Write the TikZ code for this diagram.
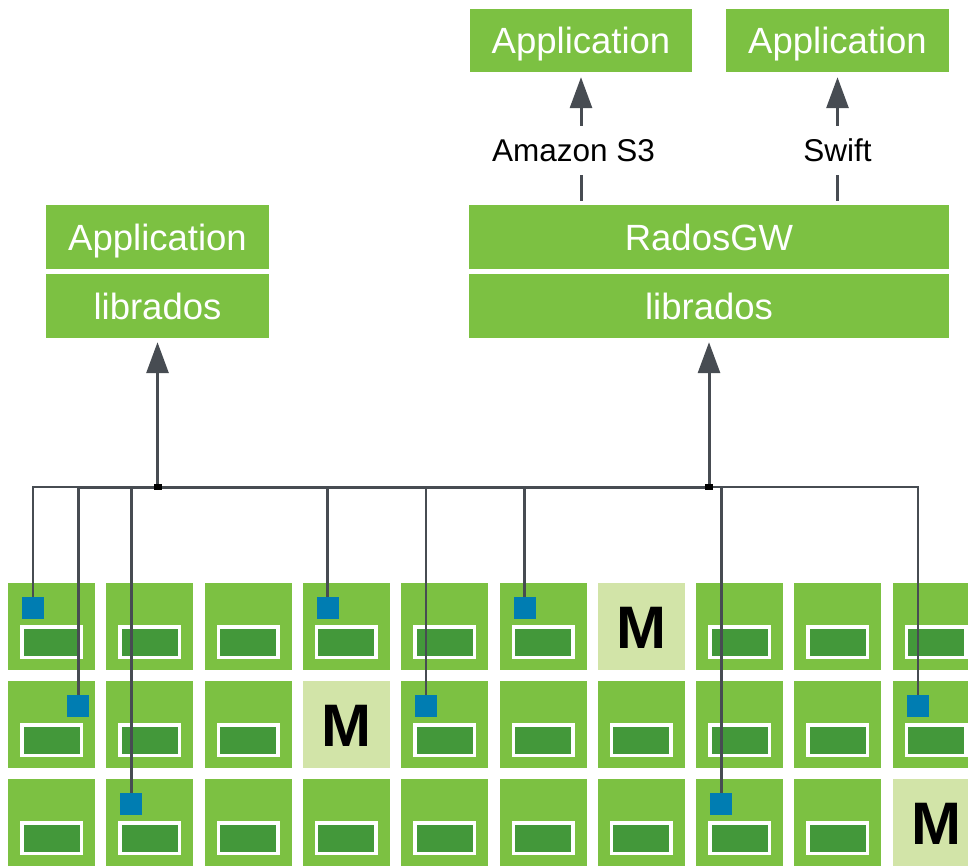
\documentclass[tikz,border=0pt]{standalone}
\usepackage{fontspec}
\setmainfont{Liberation Sans}
\usepackage{tikz}
\usetikzlibrary{arrows.meta}
\definecolor{cephgreen}{HTML}{7CC142}
\definecolor{bargreen}{HTML}{43983A}
\definecolor{monpale}{HTML}{D2E4A8}
\definecolor{osdblue}{HTML}{007DB2}
\definecolor{wire}{HTML}{474C52}
\tikzset{
  layer/.style={fill=cephgreen, text=white, inner sep=0pt, font=\fontsize{36.5}{40}\selectfont, text height=26pt, text depth=0pt},
  osd/.style={fill=cephgreen, minimum size=87pt, inner sep=0pt},
  mon/.style={fill=monpale, minimum size=87pt, inner sep=0pt, font=\fontsize{60}{60}\selectfont\bfseries, text height=43pt, text depth=0pt},
  disk/.style={fill=bargreen, draw=white, line width=3.5pt, minimum width=59.5pt, minimum height=30.5pt, inner sep=0pt},
  obj/.style={fill=osdblue, minimum size=22pt, inner sep=0pt},
  tap/.style={fill=black, minimum width=8pt, minimum height=6pt, inner sep=0pt},
  proto/.style={fill=white, font=\fontsize{31.5}{34}\selectfont, text height=22.7pt, text depth=0pt, inner xsep=2pt, inner ysep=13pt},
  wide/.style={draw=wire, line width=3pt},
  slim/.style={draw=wire, line width=1.8pt},
  up/.style={-{Triangle[length=31pt,width=22pt]}},
}

\begin{document}
\begin{tikzpicture}[x=1pt, y=-1pt]
                \clip (0, 0) rectangle (968, 865);
                \node [layer, minimum width=223pt, minimum height=64pt] (app) at (157.5, 237) {Application};
                \node [layer, minimum width=223pt, minimum height=64pt] (lib) at (157.5, 306) {librados};
                \node [layer, minimum width=480pt, minimum height=64pt] (rgw) at (709, 237) {RadosGW};
                \node [layer, minimum width=480pt, minimum height=64pt] (rlib) at (709, 306) {librados};
                \node [layer, minimum width=222pt, minimum height=63pt] (s3app) at (581, 40.5) {Application};
                \node [layer, minimum width=223pt, minimum height=63pt] (swapp) at (837.5, 40.5) {Application};
                \node [proto] (s3) at (573.5, 150.5) {Amazon S3};
                \node [proto] (swift) at (837.5, 150.5) {Swift};
                \draw [wide, shorten >=4pt] (s3app |- s3.south) -- (s3app |- rgw.north);
                \draw [wide, up, shorten >=5pt] (s3app |- s3.north) -- (s3app);
                \draw [wide, shorten >=4pt] (swift) -- (swift |- rgw.north);
                \draw [wide, up, shorten >=5pt] (swift) -- (swapp);

                \foreach \r/\m in {0/6, 1/3, 2/9}
                    \foreach \c in {0, ..., 9} {
                        \ifnum\c=\m
                            \node [mon] (n-\r-\c) at ({51.5 + 98.3*\c}, {626.5 + 98*\r}) {M};
                        \else
                            \node [osd] (n-\r-\c) at ({51.5 + 98.3*\c}, {626.5 + 98*\r}) {};
                            \node [disk] at ([yshift=-15.5pt]n-\r-\c.center) {};
                        \fi
                    }

                \node [obj] (o1) at ([shift={(-18.5pt, 18.5pt)}]n-0-0.center) {};
                \node [obj] (o2) at ([shift={(26.5pt, 18.5pt)}]n-1-0.center) {};
                \node [obj] (o3) at ([shift={(-18.5pt, 18.5pt)}]n-2-1.center) {};
                \node [obj] (o4) at ([shift={(-18.5pt, 18.5pt)}]n-0-3.center) {};
                \node [obj] (o5) at ([shift={(-18.5pt, 18.5pt)}]n-1-4.center) {};
                \node [obj] (o6) at ([shift={(-18.5pt, 18.5pt)}]n-0-5.center) {};
                \node [obj] (o7) at ([shift={(-18.5pt, 18.5pt)}]n-2-7.center) {};
                \node [obj] (o8) at ([shift={(-18.5pt, 18.5pt)}]n-1-9.center) {};

                \coordinate (t1) at (157.5, 487);
                \coordinate (t2) at (709, 487);
                \draw [slim] (o1.north) -- (o1 |- t1) -- (o2 |- t1);
                \draw [wide] (o2.north) -- (o2 |- t1) -- (t2);
                \draw [slim] (t2) -- (o8 |- t1) -- (o8.north);
                \draw [wide] (o3.north) -- (o3 |- t1);
                \draw [wide] (o4.north) -- (o4 |- t1);
                \draw [slim] (o5.north) -- (o5 |- t1);
                \draw [wide] (o6.north) -- (o6 |- t1);
                \draw [wide] (o7.north) -- (o7 |- t1);
                \node [tap] (j1) at (t1) {};
                \node [tap] (j2) at (t2) {};
                \draw [wide, up, shorten >=4pt] (j1) -- (lib);
                \draw [wide, up, shorten >=4pt] (j2) -- (rlib);
            \end{tikzpicture}
\end{document}
